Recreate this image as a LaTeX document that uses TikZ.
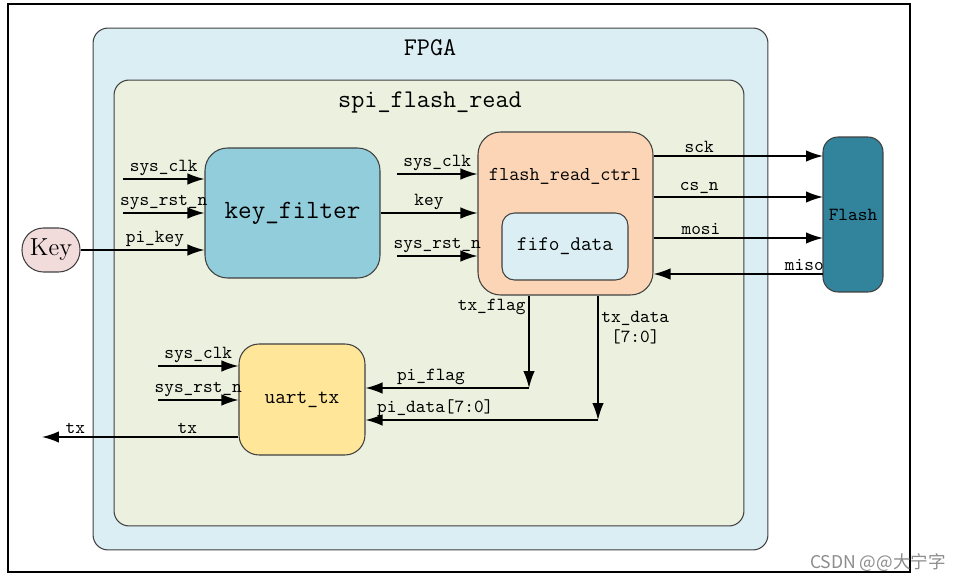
\documentclass[tikz,border=0pt]{standalone}
\usepackage{fontspec}
\newfontfamily\cjk{Noto Sans CJK SC}
\renewcommand{\familydefault}{\ttdefault}
\usetikzlibrary{arrows.meta,positioning}
\definecolor{fpgablue}{RGB}{218,238,243}
\definecolor{spigreen}{RGB}{235,241,222}
\definecolor{kfblue}{RGB}{146,205,220}
\definecolor{ctrlpeach}{RGB}{251,213,181}
\definecolor{flashteal}{RGB}{49,132,155}
\definecolor{uartyellow}{RGB}{255,230,153}
\definecolor{keypink}{RGB}{242,220,219}
\definecolor{boxline}{RGB}{64,64,64}

\begin{document}
\begin{tikzpicture}[x=0.02cm,y=-0.02cm,->,>={Latex[length=3.4mm,width=2.3mm]},line width=0.85pt,auto,
  every node/.style={inner sep=1.5pt,font=\fontsize{10.5}{11.5}\selectfont}]
\tikzstyle{block}=[draw=boxline,line width=0.6pt,inner sep=0pt,rounded corners=0.4cm]
\tikzstyle{every edge}=[draw=black,->]
\useasboundingbox (0,0) rectangle (968,581);
\node[draw=black,line width=1.6pt,inner sep=0pt,minimum width=18.04cm,minimum height=11.36cm] (frame) at (459,288) {};
\node[block,fill=fpgablue,rounded corners=0.3cm,minimum width=13.5cm,minimum height=10.44cm] (fpga) at (430.5,289) {};
\node[font=\fontsize{14.5}{16}\selectfont] (fpgat) at (430,48) {FPGA};
\node[block,fill=spigreen,rounded corners=0.3cm,minimum width=12.6cm,minimum height=8.92cm] (spi) at (429,303) {};
\node[font=\fontsize{14.5}{16}\selectfont] (spit) at (430,102) {spi\_flash\_read};
\node[block,fill=kfblue,rounded corners=0.45cm,minimum width=3.5cm,minimum height=2.6cm,font=\fontsize{15}{16}\selectfont] (kf) at (292.5,213) {key\_filter};
\node[block,fill=ctrlpeach,rounded corners=0.45cm,minimum width=3.5cm,minimum height=3.26cm] (frc) at (565.5,213.5) {};
\node[font=\fontsize{11.2}{13}\selectfont] (frct) at (565,176) {flash\_read\_ctrl};
\node[block,fill=fpgablue,rounded corners=0.25cm,minimum width=2.52cm,minimum height=1.34cm,font=\fontsize{11.8}{13}\selectfont] (fifo) at (565,246.5) {fifo\_data};
\node[block,fill=flashteal,rounded corners=0.3cm,minimum width=1.2cm,minimum height=3.1cm,font=\fontsize{10.5}{12}\selectfont] (flash) at (853,214.5) {Flash};
\node[block,fill=uartyellow,rounded corners=0.4cm,minimum width=2.52cm,minimum height=2.22cm,font=\fontsize{11.8}{13}\selectfont] (uart) at (302,399.5) {uart\_tx};
\node[block,fill=keypink,rounded corners=0.43cm,minimum width=1.16cm,minimum height=0.88cm,font=\rmfamily\fontsize{14}{16}\selectfont] (key) at (51,250) {Key};
\node[text=black!45,font=\cjk\fontsize{10}{12}\selectfont] (mark) at (878,563) {CSDN @@大宁字};
\coordinate (kclk) at (123,179);
\coordinate (krst) at (123,213);
\coordinate (fclk) at (397,174);
\coordinate (frst) at (397,256);
\coordinate (sck) at (823,156);
\coordinate (csn) at (823,197);
\coordinate (mosi) at (823,238);
\coordinate (miso) at (823,274);
\coordinate (uclk) at (158,366);
\coordinate (urst) at (158,400);
\coordinate (txo) at (42,437);
\coordinate (cf) at (529,388);
\coordinate (cd) at (598,420);
\path (kclk) edge node{sys\_clk} (kclk -| kf.west)
      (krst) edge node{sys\_rst\_n} (krst -| kf.west)
      (key.east) edge node[pos=0.6]{pi\_key} (key.east -| kf.west)
      (fclk) edge node{sys\_clk} (fclk -| frc.west)
      (kf.east) edge node{key} (kf.east -| frc.west)
      (frst) edge node{sys\_rst\_n} (frst -| frc.west)
      (sck -| frc.east) edge node[pos=0.27]{sck} (sck)
      (csn -| frc.east) edge node[pos=0.27]{cs\_n} (csn)
      (mosi -| frc.east) edge node[pos=0.28]{mosi} (mosi)
      (miso) edge node[above,pos=0.11]{miso} (miso -| frc.east)
      (frc.south -| cf) edge node[left,pos=0.12]{tx\_flag} (cf)
      (cf) edge node[above,pos=0.6]{pi\_flag} (cf -| uart.east)
      (frc.south -| cd) edge node[right,align=center,pos=0.26]{tx\_data\\{[7:0]}} (cd)
      (cd) edge node[above,pos=0.7]{pi\_data[7:0]} (cd -| uart.east)
      (uclk) edge node{sys\_clk} (uclk -| uart.west)
      (urst) edge node{sys\_rst\_n} (urst -| uart.west)
      (uart.west |- txo) edge node[above,pos=0.26]{tx} node[above,pos=0.83]{tx} (txo);
\end{tikzpicture}
\end{document}
